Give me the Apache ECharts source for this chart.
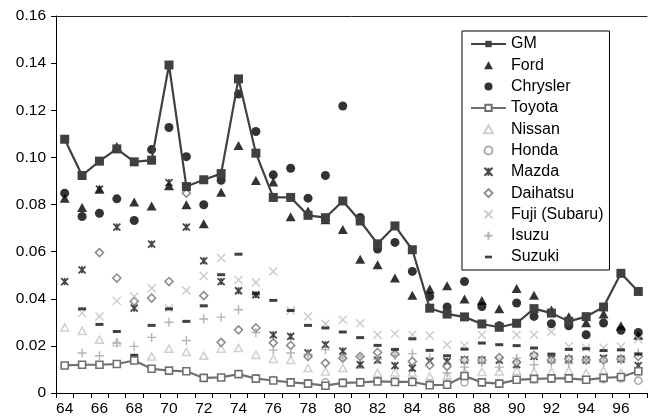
<!DOCTYPE html>
<html><head><meta charset="utf-8">
<script src="https://cdn.jsdelivr.net/npm/echarts@6/dist/echarts.min.js"></script>
<style>html,body{margin:0;padding:0;background:#fff}#c{width:649px;height:419px}</style>
</head><body><div id="c"></div>
<script>
const years = ['64','65','66','67','68','69','70','71','72','73','74','75','76','77','78','79','80','81','82','83','84','85','86','87','88','89','90','91','92','93','94','95','96','97'];
const yTickLabels = ['0','0.02','0.04','0.06','0.08','0.10','0.12','0.14','0.16'];
const gm = [0.1077,0.0923,0.0984,0.1036,0.0981,0.0988,0.1392,0.0876,0.0905,0.0931,0.1333,0.1018,0.0830,0.0830,0.0754,0.0744,0.0815,0.0730,0.0633,0.0709,0.0608,0.0360,0.0335,0.0323,0.0293,0.0279,0.0296,0.0358,0.0339,0.0304,0.0324,0.0365,0.0508,0.0431];
const ford = [0.0827,0.0787,0.0865,0.1046,0.0811,0.0794,0.0880,0.0799,0.0718,0.0852,0.1050,0.0902,0.0895,0.0748,0.0772,0.0735,0.0694,0.0568,0.0544,0.0488,0.0415,0.0441,0.0455,0.0399,0.0393,0.0358,0.0443,0.0415,0.0352,0.0324,0.0298,0.0335,0.0285,0.0245];
const chrysler = [0.0848,0.0749,0.0763,0.0824,0.0732,0.1033,0.1127,0.1003,0.0799,0.0903,0.1269,0.1110,0.0926,0.0954,0.0827,0.0923,0.1218,0.0745,0.0611,0.0639,0.0516,0.0410,0.0365,0.0473,0.0367,0.0285,0.0382,0.0325,0.0294,0.0285,0.0247,0.0297,0.0266,0.0257];
const toyota = [0.0117,0.0120,0.0120,0.0123,0.0138,0.0103,0.0095,0.0092,0.0064,0.0066,0.0080,0.0061,0.0053,0.0045,0.0040,0.0031,0.0043,0.0045,0.0049,0.0047,0.0047,0.0033,0.0035,0.0072,0.0045,0.0040,0.0056,0.0060,0.0062,0.0062,0.0056,0.0064,0.0068,0.0092];
const nissan = [0.0278,0.0264,0.0226,0.0216,0.0150,0.0155,0.0188,0.0174,0.0158,0.0188,0.0191,0.0162,0.0145,0.0141,0.0106,0.0092,0.0106,0.0120,0.0085,0.0087,0.0087,0.0070,0.0075,0.0090,0.0090,0.0092,0.0095,0.0090,0.0090,0.0095,0.0085,0.0095,0.0085,0.0065];
const honda = [null,null,null,null,null,null,null,null,null,null,null,0.0062,0.0055,0.0047,0.0042,0.0046,0.0045,0.0047,0.0052,0.0049,0.0052,0.0040,0.0040,0.0045,0.0045,0.0040,0.0055,0.0058,0.0060,0.0062,0.0055,0.0058,0.0062,0.0052];
const mazda = [0.0473,0.0523,0.0865,0.0704,0.0360,0.0632,0.0893,0.0704,0.0561,0.0473,0.0434,0.0417,0.0247,0.0240,0.0170,0.0205,0.0178,0.0120,0.0140,0.0116,0.0106,0.0134,0.0134,0.0141,0.0140,0.0140,0.0120,0.0155,0.0145,0.0144,0.0141,0.0148,0.0144,0.0116];
const daihatsu = [null,null,0.0596,0.0488,0.0389,0.0403,0.0473,0.0848,0.0413,0.0215,0.0268,0.0276,0.0213,0.0202,0.0155,0.0127,0.0148,0.0155,0.0172,0.0165,0.0134,0.0118,0.0113,0.0140,0.0140,0.0150,0.0130,0.0160,0.0140,0.0145,0.0140,0.0140,0.0145,0.0155];
const fuji = [null,0.0339,0.0325,0.0391,0.0410,0.0445,0.0360,0.0435,0.0497,0.0573,0.0480,0.0469,0.0516,0.0350,0.0325,0.0294,0.0311,0.0296,0.0247,0.0252,0.0247,0.0244,0.0205,0.0202,0.0247,0.0280,0.0247,0.0247,0.0260,0.0198,0.0192,0.0192,0.0196,0.0229];
const isuzu = [null,0.0170,0.0158,0.0212,0.0198,0.0236,0.0300,0.0223,0.0314,0.0322,0.0353,0.0257,0.0182,0.0170,0.0165,0.0184,0.0148,0.0155,0.0144,0.0160,0.0167,0.0150,0.0085,0.0110,0.0130,0.0110,0.0148,0.0120,0.0127,0.0125,0.0141,0.0130,0.0140,0.0170];
const suzuki = [null,0.0357,0.0291,0.0261,0.0160,0.0287,0.0357,0.0304,0.0370,0.0502,0.0589,0.0421,0.0393,0.0350,0.0287,0.0276,0.0259,0.0235,0.0202,0.0185,0.0230,0.0181,0.0158,0.0186,0.0212,0.0205,0.0201,0.0191,0.0165,0.0185,0.0188,0.0180,0.0183,0.0165];

const FONT = 'Liberation Sans, Arial, sans-serif';
function sc(name, data, symbol, size, item) {
  return {name, type: 'scatter', data, symbol, symbolSize: size, symbolKeepAspect: true, itemStyle: item};
}
const triPath = 'path://M5,0L10,9L0,9Z';
const diaPath = 'path://M5,0L10,5L5,10L0,5Z';
const dashPath = 'path://M0,-3M8,6M0,0L8,0L8,3L0,3Z';
const starPath = 'path://M0,0L10,10M10,0L0,10M5,0L5,10';
const xPath = 'path://M0,0L10,10M10,0L0,10';
const plusPath = 'path://M5,0L5,10M0,5L10,5';

const chart = echarts.init(document.getElementById('c'), null, {renderer: 'canvas'});
chart.setOption({
  animation: false,
  backgroundColor: '#fff',
  textStyle: {fontFamily: FONT},
  grid: {left: 56, right: 2, top: 16, bottom: 26, containLabel: false},
  xAxis: [{
    type: 'category', data: years, boundaryGap: true,
    axisLine: {lineStyle: {color: '#000', width: 1}},
    axisTick: {show: true, interval: 0, length: 5, inside: false, lineStyle: {color: '#000'}},
    axisLabel: {interval: 1, color: '#000', fontSize: 15.5, margin: 8, fontFamily: FONT},
    splitLine: {show: false}
  }, {
    type: 'category', data: years, position: 'top', boundaryGap: true,
    axisLine: {show: true, lineStyle: {color: '#222', width: 1}},
    axisTick: {show: false}, axisLabel: {show: false}, splitLine: {show: false}
  }],
  yAxis: {
    type: 'value', min: 0, max: 0.16, interval: 0.02,
    axisLine: {show: true, lineStyle: {color: '#000', width: 1}},
    axisTick: {show: true, length: 5, lineStyle: {color: '#000'}},
    axisLabel: {color: '#000', fontSize: 15.5, margin: 10, fontFamily: FONT,
      formatter: (v) => yTickLabels[Math.round(v / 0.02)]},
    splitLine: {show: false}
  },
  legend: {
    orient: 'vertical', left: 462, top: 31,
    padding: [5, 6, 5, 8],
    borderColor: '#000', borderWidth: 1,
    itemWidth: 35, itemHeight: 8, itemGap: 5.3,
    symbolKeepAspect: true,
    textStyle: {fontSize: 16, color: '#000', fontFamily: FONT},
    data: ['GM','Ford','Chrysler','Toyota','Nissan','Honda','Mazda','Daihatsu','Fuji (Subaru)','Isuzu','Suzuki']
  },
  series: [
    {name: 'GM', type: 'line', data: gm, symbol: 'rect', symbolSize: 9, showSymbol: true,
      lineStyle: {color: '#404040', width: 2.2}, itemStyle: {color: '#404040'}},
    sc('Ford', ford, triPath, 10, {color: '#000'}),
    sc('Chrysler', chrysler, 'circle', 9, {color: '#000'}),
    {name: 'Toyota', type: 'line', data: toyota, symbol: 'rect', symbolSize: 7, showSymbol: true,
      lineStyle: {color: '#707070', width: 2.2}, itemStyle: {color: '#fff', borderColor: '#707070', borderWidth: 1.6}},
    sc('Nissan', nissan, triPath, 8, {color: '#fff', borderColor: '#c4c4c4', borderWidth: 1.5}),
    sc('Honda', honda, 'circle', 7, {color: '#fff', borderColor: '#999', borderWidth: 1.5}),
    sc('Mazda', mazda, starPath, 7, {color: 'none', borderColor: '#1a1a1a', borderWidth: 1.8}),
    sc('Daihatsu', daihatsu, diaPath, 8, {color: '#fff', borderColor: '#707070', borderWidth: 1.6}),
    sc('Fuji (Subaru)', fuji, xPath, 8, {color: 'none', borderColor: '#bdbdbd', borderWidth: 1.4}),
    sc('Isuzu', isuzu, plusPath, 9, {color: 'none', borderColor: '#a0a0a0', borderWidth: 1.4}),
    sc('Suzuki', suzuki, dashPath, 9, {color: '#111'})
  ]
});
</script></body></html>
